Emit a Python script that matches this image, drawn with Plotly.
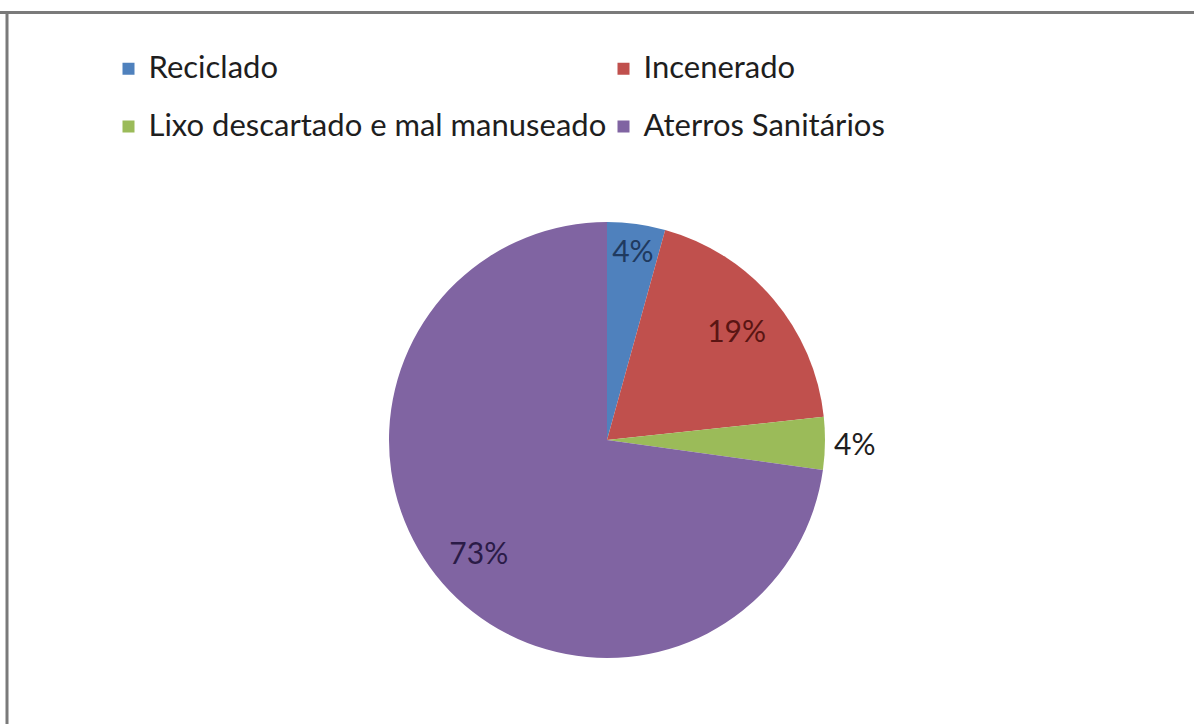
import plotly.graph_objects as go

categories = ["Reciclado", "Incenerado", "Lixo descartado e mal manuseado", "Aterros Sanitários"]
values = [4.3, 19.0, 3.9, 72.8]
colors = ["#4F81BD", "#C0504D", "#9BBB59", "#8064A2"]
label_colors = ["#1F3A5F", "#5A1513", "#1E1E1E", "#2B1B47"]
text_positions = ["inside", "inside", "outside", "inside"]

W, H = 1194, 724
FONT = "Lato"

legend_names = [
    f'<span style="font-size:31px;baseline-shift:7px">{c}</span>' for c in categories
]
pie_domain = dict(x=[389 / W, 825 / W], y=[(H - 658) / H, (H - 222) / H])

fig = go.Figure()
# coloured slices
fig.add_trace(go.Pie(
    labels=legend_names,
    values=values,
    sort=False,
    direction="clockwise",
    rotation=0,
    marker=dict(colors=colors, line=dict(width=0)),
    textinfo="none",
    hovertemplate="%{label}: %{percent}<extra></extra>",
    domain=pie_domain,
))
# percentage labels (same data, transparent ring so labels sit near the rim)
fig.add_trace(go.Pie(
    labels=legend_names,
    values=values,
    sort=False,
    direction="clockwise",
    rotation=0,
    hole=0.56,
    marker=dict(colors=["rgba(0,0,0,0)"] * len(values), line=dict(width=0)),
    texttemplate="%{percent:.0%}",
    textposition=text_positions,
    insidetextorientation="horizontal",
    textfont=dict(family=FONT, size=30, color=label_colors),
    outsidetextfont=dict(family=FONT, size=30, color="#1E1E1E"),
    hoverinfo="skip",
    showlegend=False,
    domain=pie_domain,
))

fig.update_layout(
    width=W, height=H,
    margin=dict(l=0, r=0, t=0, b=0),
    paper_bgcolor="white",
    plot_bgcolor="white",
    font=dict(family=FONT, color="#1E1E1E"),
    uniformtext=dict(minsize=30, mode="show"),
    showlegend=True,
    legend=dict(
        orientation="h",
        x=108.5 / W, xanchor="left",
        y=1 - 35 / H, yanchor="top",
        entrywidth=450, entrywidthmode="pixels",
        font=dict(family=FONT, size=42, color="#1E1E1E"),
        bgcolor="rgba(0,0,0,0)",
        borderwidth=0,
    ),
    shapes=[
        dict(type="line", xref="paper", yref="paper", x0=0, x1=1,
             y0=1 - 12.5 / H, y1=1 - 12.5 / H, line=dict(color="#7A7A7A", width=3)),
        dict(type="line", xref="paper", yref="paper", x0=7 / W, x1=7 / W,
             y0=0, y1=1 - 11 / H, line=dict(color="#7A7A7A", width=3)),
    ],
)

fig.write_html(
    "out.html",
    config={"displayModeBar": False},
    post_script="document.body.style.margin='0';document.body.style.overflow='hidden';",
)
